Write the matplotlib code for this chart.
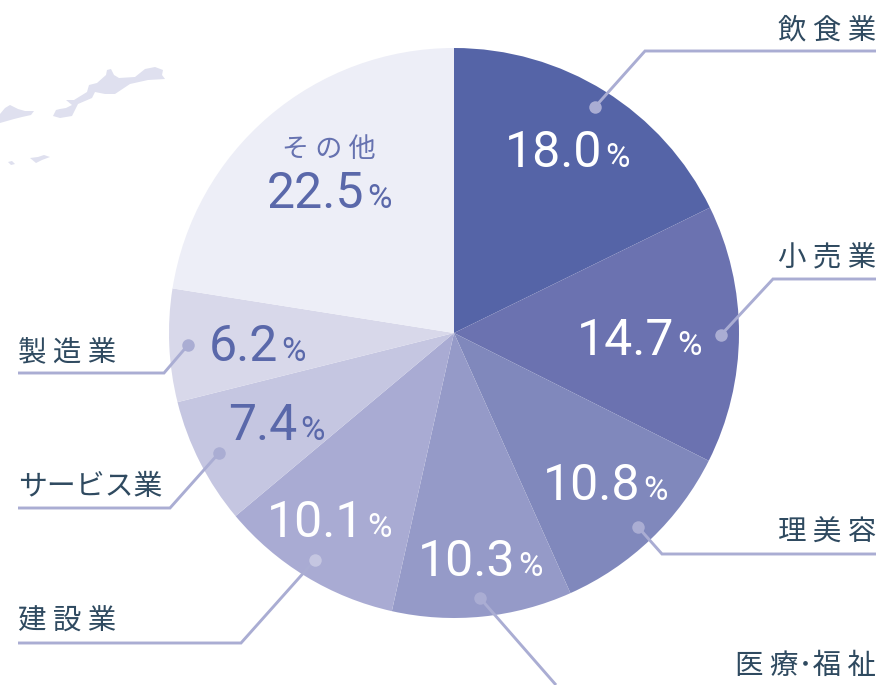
import matplotlib
matplotlib.use('Agg')
import matplotlib.pyplot as plt
from matplotlib.patches import Polygon

W, H = 879, 685

# データ
categories = ['飲食業', '小売業', '理美容', '医療・福祉', '建設業', 'サービス業', '製造業', 'その他']
shares = [18.0, 14.7, 10.8, 10.3, 10.1, 7.4, 6.2, 22.5]
# 図の扇形の実測角（%換算）
drawn_shares = [17.75, 14.65, 10.9, 10.2, 10.4, 7.2, 6.4, 22.5]
slice_colors = ['#5564a7', '#6b72b0', '#8088bc', '#959ac8', '#a9abd3', '#c5c6e1', '#d8d8ea', '#edeef7']

# カテゴリ名の表示（字間あり）
label_texts = ['飲 食 業', '小 売 業', '理 美 容', '医 療･福 祉', '建 設 業', 'サービス業', '製 造 業']
other_text = 'そ の 他'

TEXT_COLOR = '#2f4a60'
LINE_COLOR = '#aaadd3'
NUM_COLOR = '#5a68aa'
NUM_FONT = ['Roboto', 'DejaVu Sans']
JP_FONT = ['Noto Sans CJK JP', 'DejaVu Sans']


def py(y):
    # 画像のy座標（上から）を軸の座標へ
    return H - y


fig = plt.figure(figsize=(W / 100, H / 100), dpi=100)
ax = fig.add_axes([0, 0, 1, 1])

# 円グラフ
ax.pie(drawn_shares, colors=slice_colors, startangle=90, counterclock=False,
       center=(454, py(333)), radius=285, frame=True,
       wedgeprops={'linewidth': 0})
ax.set_xlim(0, W)
ax.set_ylim(0, H)
ax.set_aspect('equal')
ax.axis('off')

# 左上の島の飾り
islands = [
    [(53, 116), (56, 110), (60, 109), (66, 108), (72, 105), (66, 100), (74, 100), (87, 92),
     (89, 85), (97, 83), (106, 75), (107, 70), (111, 69), (114, 75), (119, 78), (135, 77),
     (145, 69), (155, 67), (163, 70), (162, 75), (165, 79), (148, 80), (130, 84), (115, 94),
     (105, 94), (95, 92), (92, 98), (78, 104), (72, 116), (60, 118)],
    [(0, 114), (5, 108), (10, 105), (18, 109), (25, 111), (34, 111), (31, 115), (22, 117),
     (14, 119), (0, 123)],
    [(30, 158), (38, 157), (44, 155), (50, 157), (42, 160), (36, 163)],
    [(8, 162), (12, 161), (15, 164), (11, 165)],
]
for pts in islands:
    ax.add_patch(Polygon([(x, py(y)) for x, y in pts], closed=True,
                         facecolor='#dfe0ef', edgecolor='none', zorder=1))

# 引き出し線と点
leaders = [
    ([(595, 107), (645, 51), (876, 51)], '#aaadd3'),
    ([(721, 335), (773, 279), (876, 279)], '#aaadd3'),
    ([(638, 527), (662, 554), (876, 554)], '#aaadd3'),
    ([(480, 598), (556, 685)], '#aaadd3'),
    ([(315, 560), (241, 643), (18, 643)], '#c5c6e1'),
    ([(219, 453), (170, 508), (18, 508)], '#aaadd3'),
    ([(188, 345), (164, 373), (18, 373)], '#aaadd3'),
]
for pts, dot_color in leaders:
    ax.plot([p[0] for p in pts], [py(p[1]) for p in pts], color=LINE_COLOR,
            linewidth=2.1, solid_joinstyle='miter', solid_capstyle='butt', zorder=3)
    ax.plot(pts[0][0], py(pts[0][1]), 'o', color=dot_color, markersize=9,
            markeredgewidth=0, zorder=4)

# カテゴリ名
label_pos = [
    (876, 38, 'right', 20.5), (876, 266, 'right', 20.5), (876, 541, 'right', 20.5), (876, 674, 'right', 20.5),
    (18, 630, 'left', 20.5), (18, 495, 'left', 20.8), (18, 360, 'left', 20.5),
]
for text, (x, y, ha, size) in zip(label_texts, label_pos):
    ax.text(x, py(y), text, ha=ha, va='baseline', fontsize=size, color=TEXT_COLOR,
            family=JP_FONT, zorder=5)

# 数値（右端x, ベースラインy, 色）
value_pos = [
    (602, 167, 'white'), (674, 355, 'white'), (640, 500, 'white'),
    (515, 576, 'white'), (364, 537, 'white'), (297, 440, NUM_COLOR),
    (278, 361, NUM_COLOR), (364, 208, NUM_COLOR),
]
for share, (x, y, color) in zip(shares, value_pos):
    ax.text(x, py(y), f'{share:.1f}', ha='right', va='baseline', fontsize=36,
            color=color, family=NUM_FONT, zorder=5)
    ax.text(x + 3, py(y), '%', ha='left', va='baseline', fontsize=24,
            color=color, family=NUM_FONT, zorder=5)

ax.text(329, py(157), other_text, ha='center', va='baseline', fontsize=19.5,
        color='#6672b0', family=JP_FONT, zorder=5)

fig.savefig('out.png', dpi=100)
